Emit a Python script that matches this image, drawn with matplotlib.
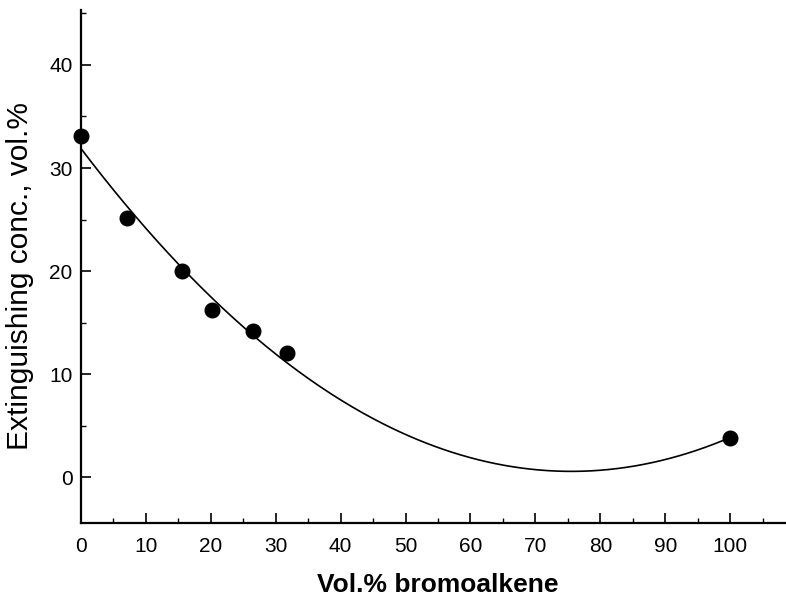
import numpy as np
import matplotlib
matplotlib.use('Agg')
import matplotlib.pyplot as plt
from matplotlib.ticker import MultipleLocator

vol_bromo = [0, 7.1, 15.6, 20.2, 26.5, 31.8, 100]
ext_conc = [33.1, 25.2, 20.0, 16.2, 14.2, 12.1, 3.8]

x_ticks = [0, 10, 20, 30, 40, 50, 60, 70, 80, 90, 100]
y_ticks = [0, 10, 20, 30, 40]

plt.rcParams['font.family'] = ['Liberation Sans', 'DejaVu Sans']

fig = plt.figure(figsize=(7.86, 6.03), dpi=100)
ax = fig.add_axes([0.103, 0.133, 0.897, 0.85])

# second-order fit through the data, as in the original
coef = np.polyfit(vol_bromo, ext_conc, 2)
xs = np.linspace(0, 100, 300)
ax.plot(xs, np.polyval(coef, xs), color='black', lw=1.2)
ax.plot(vol_bromo, ext_conc, 'o', color='black', ms=10.5, clip_on=False, zorder=3)

ax.set_xlim(0, 108.6)
ax.set_ylim(-4.4, 45.3)
ax.set_xticks(x_ticks)
ax.set_yticks(y_ticks)
ax.xaxis.set_minor_locator(MultipleLocator(5))
ax.yaxis.set_minor_locator(MultipleLocator(5))
ax.tick_params(which='major', direction='in', length=7, width=1.2, labelsize=15)
ax.tick_params(axis='x', which='major', pad=10)
ax.tick_params(axis='y', which='major', pad=6)
ax.tick_params(which='minor', direction='in', length=3.5, width=1)

for s in ['top', 'right']:
    ax.spines[s].set_visible(False)
for s in ['left', 'bottom']:
    ax.spines[s].set_linewidth(1.6)

ax.set_xlabel('Vol.% bromoalkene', fontsize=19, fontweight='bold', va='center')
ax.xaxis.set_label_coords(0.506, -0.121)
ax.set_ylabel('Extinguishing conc., vol.%', fontsize=21.5, va='center')
ax.yaxis.set_label_coords(-0.0865, 0.482)

fig.savefig('out.png', dpi=100)
